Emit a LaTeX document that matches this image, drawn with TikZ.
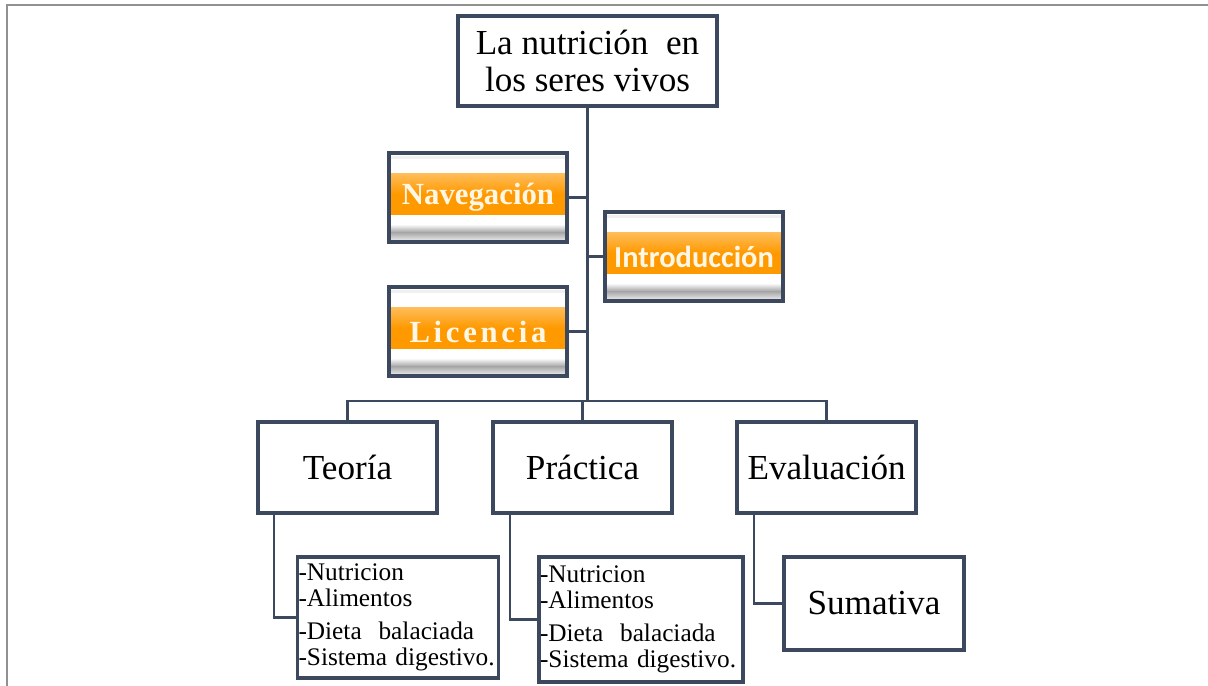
\documentclass[tikz,border=0pt]{standalone}
\usepackage{fontspec}
\setmainfont{Liberation Serif}
\newfontfamily\btnsans{Carlito}
\usepackage{xcolor}
\usetikzlibrary{shapes,arrows,positioning,calc}
\definecolor{boxline}{RGB}{59,72,94}
\definecolor{btnorange}{RGB}{255,153,0}
\definecolor{btntext}{RGB}{255,247,230}
\definecolor{framegray}{RGB}{145,145,145}

\begin{document}
\begin{tikzpicture}[
    block/.style={draw=boxline, line width=2.3pt, fill=white, minimum width=3.58cm, minimum height=1.82cm, inner sep=2pt, font=\fontsize{20}{21}\selectfont},
    listbox/.style={draw=boxline, line width=2.1pt, fill=white, inner xsep=0.02cm, inner ysep=0pt, align=left, font=\fontsize{14.4}{14.8}\selectfont},
    button/.style={draw=boxline, line width=2.3pt, fill=white, minimum width=3.56cm, minimum height=1.78cm, inner sep=0pt, text=btntext,
        path picture={
            \coordinate (nw) at (path picture bounding box.north west);
            \coordinate (se) at (path picture bounding box.south east);
            \fill[gray!12] ($(nw)!0.03!(nw|-se)$) rectangle ($(nw-|se)!0.07!(se)$);
            \shade[top color=btnorange!65!white, bottom color=btnorange] ($(nw)!0.23!(nw|-se)$) rectangle ($(nw-|se)!0.46!(se)$);
            \fill[btnorange] ($(nw)!0.46!(nw|-se)$) rectangle ($(nw-|se)!0.70!(se)$);
            \shade[top color=white, bottom color=gray!70] ($(nw)!0.80!(nw|-se)$) rectangle ($(nw-|se)!0.89!(se)$);
            \shade[top color=gray!70, bottom color=gray!8] ($(nw)!0.89!(nw|-se)$) rectangle (se);
        }},
    link/.style={draw=boxline, line width=1.4pt},
    trunk/.style={draw=boxline, line width=1.8pt}
]
    \useasboundingbox (0,0) rectangle (24.16,-13.72);
    \draw[framegray, line width=1.4pt] (0.14,-13.72) -- (0.14,-0.1) -- (24.16,-0.1);

    % Title
    \node[block, minimum width=5.18cm, minimum height=1.80cm, align=center] (title) at (11.75,-1.22) {La nutrición \ en\\los seres vivos};

    % Buttons
    \node[button, font=\bfseries\fontsize{17.5}{18}\selectfont] (nav) at (9.56,-3.95) {Navegación};
    \node[button, below=0.82cm of nav, font=\bfseries\fontsize{17.5}{18}\selectfont\addfontfeature{LetterSpace=12}] (lic) {Licencia};
    \node[button, font=\btnsans\bfseries\fontsize{17.3}{18}\selectfont] (intro) at (13.88,-5.13) {Introducción};

    % Sections
    \node[block] (teoria) at (6.95,-9.35) {Teoría};
    \node[block, right=1.04cm of teoria] (practica) {Práctica};
    \node[block, right=1.22cm of practica] (evaluacion) {Evaluación};

    % Contents
    \node[listbox, text width=3.98cm, minimum height=2.42cm] (tlist) at (7.96,-12.35) {-Nutricion\\-Alimentos\\[4pt]-Dieta\ \ balaciada\\-Sistema digestivo.};
    \node[listbox, text width=4.04cm, minimum height=2.50cm] (plist) at (12.82,-12.39) {-Nutricion\\-Alimentos\\[4pt]-Dieta\ \ balaciada\\-Sistema digestivo.};
    \node[block, minimum width=3.6cm, minimum height=1.86cm] (sumativa) at (17.48,-12.07) {Sumativa};

    % Connections
    \draw[trunk] (title.south) -- ++(0,-5.86);
    \draw[link] (nav.east) -- (nav.east -| title.south);
    \draw[link] (lic.east) -- (lic.east -| title.south);
    \draw[link] (intro.west) -- (intro.west -| title.south);
    \draw[link] (teoria.north) -- ++(0,0.38) -| (evaluacion.north);
    \draw[link] (practica.north) -- ++(0,0.38);
    \draw[link] ([xshift=0.36cm]teoria.south west) |- (tlist.west);
    \draw[link] ([xshift=0.38cm]practica.south west) |- (plist.west);
    \draw[link] ([xshift=0.38cm]evaluacion.south west) |- (sumativa.west);
\end{tikzpicture}
\end{document}
